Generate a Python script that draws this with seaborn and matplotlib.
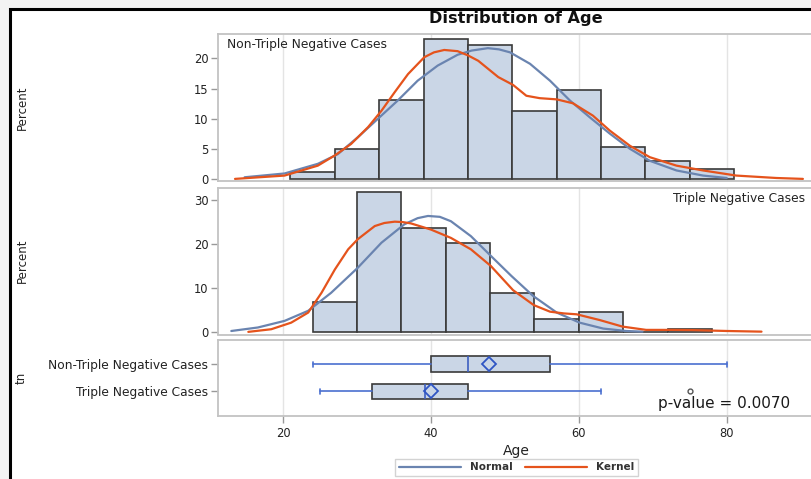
import numpy as np
import pandas as pd
import matplotlib
matplotlib.use("Agg")
import matplotlib.pyplot as plt
import seaborn as sns
from matplotlib.patches import Rectangle
from matplotlib.lines import Line2D

sns.set_theme(style="white")
plt.rcParams['font.family'] = ['DejaVu Sans']

# ---------------- data ----------------
ntn_edges = [21, 27, 33, 39, 45, 51, 57, 63, 69, 75, 81]
ntn_pct = [1.1, 4.9, 13.1, 23.2, 22.2, 11.2, 14.8, 5.3, 2.9, 1.7]

tn_edges = [24, 30, 36, 42, 48, 54, 60, 66, 72, 78]
tn_pct = [6.7, 31.8, 23.7, 20.2, 8.8, 2.9, 4.6, 0.0, 0.7]

ntn_normal_x = [14.8, 20.2, 24.7, 27.4, 30.1, 32.8, 35.5, 38.2, 40.9, 43.6, 45.5, 47.7,
                49.2, 50.7, 53.4, 56.1, 58.8, 61.5, 64.2, 66.9, 69.6, 73.2, 76.8, 80.0]
ntn_normal_y = [0.27, 0.9, 2.5, 4.1, 6.9, 9.95, 13.0, 16.3, 18.8, 20.6, 21.3, 21.7,
                21.5, 21.0, 19.1, 16.3, 13.0, 10.2, 7.5, 5.0, 3.0, 1.4, 0.55, 0.15]

ntn_kernel_x = [13.5, 20.2, 24.7, 27.0, 29.2, 31.5, 33.3, 35.1, 36.9, 39.1, 40.4, 41.8,
                43.6, 45.0, 46.4, 49.1, 51.1, 52.9, 54.7, 57.0, 59.2, 61.9, 64.2, 66.9,
                69.6, 73.2, 76.8, 81.3, 86.7, 90.3]
ntn_kernel_y = [0.0, 0.55, 2.2, 3.9, 5.8, 8.6, 11.3, 14.4, 17.4, 20.2, 21.0, 21.4,
                21.2, 20.5, 19.6, 16.9, 15.6, 13.8, 13.4, 13.2, 12.55, 10.5, 8.0, 5.5,
                3.6, 2.2, 1.4, 0.55, 0.15, 0.0]

tn_normal_x = [13.0, 16.6, 20.2, 23.4, 26.5, 30.1, 33.3, 36.4, 38.2, 39.6, 41.2, 42.7,
               45.4, 48.1, 50.9, 53.8, 57.0, 60.1, 63.3, 66.4, 68.6]
tn_normal_y = [0.2, 1.0, 2.5, 4.8, 8.9, 14.6, 20.3, 24.5, 25.9, 26.4, 26.2, 25.2,
               21.8, 17.3, 12.7, 8.2, 4.4, 2.1, 0.75, 0.2, 0.05]

tn_kernel_x = [15.3, 18.4, 21.1, 23.4, 25.2, 27.0, 28.8, 30.1, 32.4, 33.7, 35.1, 36.2,
               37.3, 40.0, 42.7, 45.4, 48.1, 51.1, 53.9, 56.1, 58.0, 59.7, 62.8, 65.9,
               69.1, 72.5, 75.4, 80.0, 84.7]
tn_kernel_y = [0.0, 0.6, 2.1, 4.4, 8.9, 14.2, 18.8, 21.1, 24.1, 24.8, 25.1, 25.0,
               24.7, 23.3, 21.4, 18.8, 15.0, 9.5, 6.1, 4.6, 4.2, 4.0, 2.7, 1.2,
               0.45, 0.45, 0.4, 0.2, 0.05]

groups = ["Non-Triple Negative Cases", "Triple Negative Cases"]
box_whislo = [24.0, 25.0]
box_q1 = [40.0, 32.0]
box_med = [45.0, 39.2]
box_mean = [47.9, 40.0]
box_q3 = [56.1, 45.0]
box_whishi = [80.0, 63.0]
box_fliers = [[], [75.0]]

x_ticks = [20, 40, 60, 80]
p_text = "p-value = 0.0070"

# ---------------- styling ----------------
BAR = '#cad6e6'
EDGE = '#3a3a3a'
NORM = '#6a84b0'
KERN = '#e5531c'
WHISK = '#4a6fd0'
SPINE = '#c3c3c3'
GRID = '#e4e4e4'

W, H = 812, 479
fig = plt.figure(figsize=(W / 100, H / 100), dpi=100)
fig.patch.set_facecolor('#f3f3f3')

frame = Rectangle((10 / W, -0.2), 1.3, (H - 9) / H + 0.2, transform=fig.transFigure,
                  facecolor='white', edgecolor='black', linewidth=2.2, zorder=-5)
fig.patches.append(frame)

def fx(px):
    return px / W

def fy(py):
    return 1 - py / H

L, R = 218, 814
ax1 = fig.add_axes([fx(L), fy(181), (R - L) / W, (181 - 34) / H])
ax2 = fig.add_axes([fx(L), fy(334.5), (R - L) / W, (334.5 - 188.3) / H])
ax3 = fig.add_axes([fx(L), fy(416), (R - L) / W, (416 - 340) / H])

XLIM = (11.2, 91.8)

def style(ax):
    ax.set_xlim(*XLIM)
    ax.set_facecolor('white')
    for s in ax.spines.values():
        s.set_color(SPINE)
        s.set_linewidth(1.3)
    ax.set_xticks(x_ticks)
    ax.grid(axis='x', color=GRID, linewidth=1.0, zorder=0)
    ax.grid(axis='y', visible=False)
    ax.set_axisbelow(True)
    ax.tick_params(axis='y', length=5, width=1, color='#999999', labelsize=8.3,
                   pad=2, labelcolor='#222222', left=True)
    ax.set_xlabel('')
    ax.set_ylabel('')

# top panel
sns.histplot(x=[(a + b) / 2 for a, b in zip(ntn_edges[:-1], ntn_edges[1:])], weights=ntn_pct,
             bins=ntn_edges, stat='count', color=BAR, alpha=1, edgecolor=EDGE,
             linewidth=1.2, ax=ax1, zorder=2)
sns.lineplot(x=ntn_normal_x, y=ntn_normal_y, color=NORM, linewidth=1.6, ax=ax1, zorder=3)
sns.lineplot(x=ntn_kernel_x, y=ntn_kernel_y, color=KERN, linewidth=1.6, ax=ax1, zorder=4)
style(ax1)
ax1.set_ylim(-0.35, 24.05)
ax1.set_yticks([0, 5, 10, 15, 20])
ax1.tick_params(axis='x', length=0, labelbottom=False)
ax1.text(0.015, 0.93, groups[0], transform=ax1.transAxes, fontsize=8.8,
         ha='left', va='center', color='#222222')

# middle panel
sns.histplot(x=[(a + b) / 2 for a, b in zip(tn_edges[:-1], tn_edges[1:])], weights=tn_pct,
             bins=tn_edges, stat='count', color=BAR, alpha=1, edgecolor=EDGE,
             linewidth=1.2, ax=ax2, zorder=2)
sns.lineplot(x=tn_normal_x, y=tn_normal_y, color=NORM, linewidth=1.6, ax=ax2, zorder=3)
sns.lineplot(x=tn_kernel_x, y=tn_kernel_y, color=KERN, linewidth=1.6, ax=ax2, zorder=4)
style(ax2)
ax2.set_ylim(-0.6, 32.7)
ax2.set_yticks([0, 10, 20, 30])
ax2.tick_params(axis='x', length=0, labelbottom=False)
ax2.text(0.985, 0.93, groups[1], transform=ax2.transAxes, fontsize=8.8,
         ha='right', va='center', color='#222222')

# bottom panel: box plots from summary statistics
stats = []
for i in range(len(groups)):
    stats.append(dict(label=groups[i], whislo=box_whislo[i], q1=box_q1[i], med=box_med[i],
                      q3=box_q3[i], whishi=box_whishi[i], mean=box_mean[i],
                      fliers=np.array(box_fliers[i])))
bxp_kw = dict(positions=[0, 1], widths=0.58, patch_artist=True, showmeans=True,
              manage_ticks=False,
              boxprops=dict(facecolor=BAR, edgecolor=EDGE, linewidth=1.2),
              whiskerprops=dict(color=WHISK, linewidth=1.2),
              capprops=dict(color=WHISK, linewidth=1.2),
              medianprops=dict(color='#3d5fc0', linewidth=1.2),
              meanprops=dict(marker='D', markerfacecolor='none', markeredgecolor='#2f55c4',
                             markersize=7, markeredgewidth=1.3),
              flierprops=dict(marker='o', markerfacecolor='none', markeredgecolor='#555555',
                              markersize=3.5, markeredgewidth=1.0))
try:
    ax3.bxp(stats, orientation='horizontal', capwidths=0.18, **bxp_kw)
except TypeError:
    ax3.bxp(stats, vert=False, **bxp_kw)
style(ax3)
ax3.set_ylim(1.91, -0.9)
ax3.set_yticks([0, 1])
ax3.set_yticklabels(groups, fontsize=8.8)
ax3.tick_params(axis='x', length=5, width=1, color='#999999', labelsize=8.3, pad=3,
                labelcolor='#222222', bottom=True)
ax3.text(70.7, 1.43, p_text, fontsize=11, ha='left', va='center', color='#1a1a1a', zorder=6)

# labels & title
fig.text(fx(516), fy(19), 'Distribution of Age', ha='center', va='center',
         fontsize=11.6, fontweight='bold', color='#111111')
fig.text(fx(22.5), fy(107.5), 'Percent', rotation=90, ha='center', va='center',
         fontsize=8.5, color='#222222')
fig.text(fx(22.5), fy(261), 'Percent', rotation=90, ha='center', va='center',
         fontsize=8.5, color='#222222')
fig.text(fx(21), fy(378), 'tn', rotation=90, ha='center', va='center',
         fontsize=8.5, color='#222222')
fig.text(fx(516), fy(450.5), 'Age', ha='center', va='center', fontsize=10,
         color='#222222')

handles = [Line2D([], [], color=NORM, linewidth=1.6), Line2D([], [], color=KERN, linewidth=1.6)]
leg = fig.legend(handles, ['Normal', 'Kernel'], loc='center',
                 bbox_to_anchor=(fx(516.5), fy(467.5)), ncol=2, frameon=True,
                 fancybox=False, edgecolor='#c8c8c8', handlelength=6, handletextpad=0.8,
                 columnspacing=1.2, borderpad=0.35,
                 prop=dict(size=7.5, weight='bold'))
leg.get_frame().set_linewidth(1.0)
for t in leg.get_texts():
    t.set_color('#333333')

fig.savefig('out.png', dpi=100, facecolor=fig.get_facecolor())
